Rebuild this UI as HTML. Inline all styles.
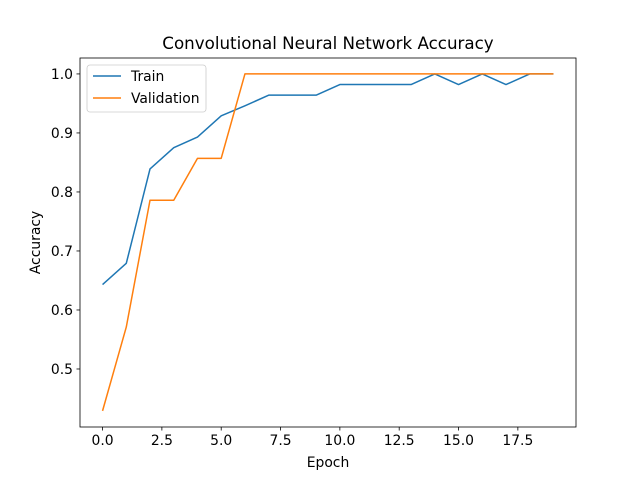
<!DOCTYPE html>
<html><head><meta charset="utf-8"><style>
body{margin:0;background:#fff;}
svg text{font-family:"DejaVu Sans","Liberation Sans",sans-serif;fill:#000;}
</style></head><body>
<svg id="chart" width="640" height="480" xmlns="http://www.w3.org/2000/svg">
<rect width="640" height="480" fill="#fff"/>
<text x="328" y="49" font-size="16.7" text-anchor="middle">Convolutional Neural Network Accuracy</text>
<g id="axes"></g>
<g id="series"></g>
<rect x="80" y="58" width="496" height="369" fill="none" stroke="#000" stroke-width="0.8"/>
<text x="328" y="467" font-size="13.9" text-anchor="middle">Epoch</text>
<text x="0" y="0" font-size="13.9" text-anchor="middle" transform="translate(40,242.5) rotate(-90)">Accuracy</text>
<g>
<rect x="87" y="65" width="119" height="47" rx="3" fill="#fff" stroke="#ccc" stroke-width="0.8"/>
<line x1="93" y1="76" x2="121" y2="76" stroke="#1f77b4" stroke-width="1.5"/>
<text x="131" y="81" font-size="13.9">Train</text>
<line x1="93" y1="98" x2="121" y2="98" stroke="#ff7f0e" stroke-width="1.5"/>
<text x="131" y="103" font-size="13.9">Validation</text>
</g>
</svg>
<script>
const epochs=[0,1,2,3,4,5,6,7,8,9,10,11,12,13,14,15,16,17,18,19];
const trainAcc=[0.643,0.679,0.839,0.875,0.893,0.929,0.946,0.964,0.964,0.964,0.982,0.982,0.982,0.982,1.0,0.982,1.0,0.982,1.0,1.0];
const valAcc=[0.429,0.571,0.786,0.786,0.857,0.857,1.0,1.0,1.0,1.0,1.0,1.0,1.0,1.0,1.0,1.0,1.0,1.0,1.0,1.0];
const xTicks=[0,2.5,5,7.5,10,12.5,15,17.5];
const xTickLabels=["0.0","2.5","5.0","7.5","10.0","12.5","15.0","17.5"];
const yTicks=[0.5,0.6,0.7,0.8,0.9,1.0];
const yTickLabels=["0.5","0.6","0.7","0.8","0.9","1.0"];

const NS="http://www.w3.org/2000/svg";
const X0=80,X1=576,Y0=58,Y1=427;
const xmin=-0.95,xmax=19.95,ymin=0.4017,ymax=1.027;
const sx=v=>X0+(v-xmin)/(xmax-xmin)*(X1-X0);
const sy=v=>Y1-(v-ymin)/(ymax-ymin)*(Y1-Y0);
const axes=document.getElementById('axes'),series=document.getElementById('series');
function mk(tag,attrs,parent){const e=document.createElementNS(NS,tag);for(const k in attrs)e.setAttribute(k,attrs[k]);parent.appendChild(e);return e;}
xTicks.forEach((t,i)=>{
  const l=mk('line',{x1:sx(t),x2:sx(t),y1:Y1,y2:Y1+3.5,stroke:'#000','stroke-width':0.8},axes);
  
  
  const tx=mk('text',{x:sx(t),y:Y1+18,'font-size':13.9,'text-anchor':'middle'},axes);
  tx.textContent=xTickLabels[i];
  
  
});
yTicks.forEach((t,i)=>{
  const l=mk('line',{x1:X0-3.5,x2:X0,y1:sy(t),y2:sy(t),stroke:'#000','stroke-width':0.8},axes);
  
  
  const tx=mk('text',{x:X0-7,y:sy(t)+5,'font-size':13.9,'text-anchor':'end'},axes);
  tx.textContent=yTickLabels[i];
  
  
});
function line(vals,color,name){
  const pts=vals.map((v,i)=>sx(epochs[i])+','+sy(v)).join(' ');
  const p=mk('polyline',{points:pts,fill:'none',stroke:color,'stroke-width':1.5,'stroke-linejoin':'round'},series);
  
  
}
line(trainAcc,'#1f77b4','train-line');
line(valAcc,'#ff7f0e','validation-line');
</script>
</body></html>
